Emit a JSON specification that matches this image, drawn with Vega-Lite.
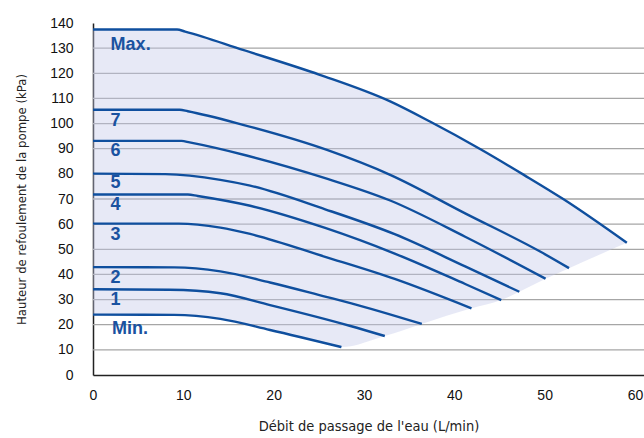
{
  "$schema": "https://vega.github.io/schema/vega-lite/v6.json",
  "width": 551,
  "height": 352,
  "autosize": {"type": "none"},
  "padding": {"left": 93, "top": 23, "right": 0, "bottom": 63},
  "background": "white",
  "config": {"view": {"stroke": null}},
  "datasets": {
    "gridlines": [
      {"y": 10}, {"y": 20}, {"y": 30}, {"y": 40}, {"y": 50}, {"y": 60}, {"y": 70},
      {"y": 80}, {"y": 90}, {"y": 100}, {"y": 110}, {"y": 120}, {"y": 130}
    ],
    "band": [
      {"x": 0, "y": 137.4, "bottom": 24.0},
      {"x": 9.3, "y": 137.4, "bottom": 23.9},
      {"x": 10.2, "y": 136.6, "bottom": 23.7},
      {"x": 14.1, "y": 132.1, "bottom": 22.3},
      {"x": 16.6, "y": 129.3, "bottom": 20.6},
      {"x": 19.6, "y": 125.8, "bottom": 17.9},
      {"x": 25.1, "y": 119.4, "bottom": 13.0},
      {"x": 27.5, "y": 116.1, "bottom": 11.1},
      {"x": 32.3, "y": 109.6, "bottom": 15.5},
      {"x": 36.4, "y": 102.4, "bottom": 20.3},
      {"x": 41.9, "y": 91.8, "bottom": 26.5},
      {"x": 45.2, "y": 84.9, "bottom": 29.8},
      {"x": 47.2, "y": 80.7, "bottom": 33.1},
      {"x": 50.1, "y": 74.3, "bottom": 38.3},
      {"x": 52.7, "y": 68.4, "bottom": 42.5},
      {"x": 59.1, "y": 52.6, "bottom": 52.6}
    ],
    "curves": [
      {"s": "Max", "x": 0, "y": 137.4}, {"s": "Max", "x": 9.3, "y": 137.4}, {"s": "Max", "x": 10.2, "y": 136.6},
      {"s": "Max", "x": 16.6, "y": 129.3},
      {"s": "Max", "x": 25.1, "y": 119.4}, {"s": "Max", "x": 32.9, "y": 108.8}, {"s": "Max", "x": 37.3, "y": 100.8},
      {"s": "Max", "x": 42.9, "y": 89.8}, {"s": "Max", "x": 47.7, "y": 79.6}, {"s": "Max", "x": 52.1, "y": 69.9},
      {"s": "Max", "x": 59.1, "y": 52.6},
      {"s": "7", "x": 0, "y": 105.5}, {"s": "7", "x": 9.6, "y": 105.5}, {"s": "7", "x": 10.5, "y": 104.9},
      {"s": "7", "x": 16.6, "y": 99.5},
      {"s": "7", "x": 25.9, "y": 89.5}, {"s": "7", "x": 32.9, "y": 79.6}, {"s": "7", "x": 41.2, "y": 64.3},
      {"s": "7", "x": 49.5, "y": 49.1}, {"s": "7", "x": 52.7, "y": 42.5},
      {"s": "6", "x": 0, "y": 93.1}, {"s": "6", "x": 9.8, "y": 93.1}, {"s": "6", "x": 10.7, "y": 92.5},
      {"s": "6", "x": 17, "y": 87.3},
      {"s": "6", "x": 25.7, "y": 78.3}, {"s": "6", "x": 32.9, "y": 69.4}, {"s": "6", "x": 41.2, "y": 55.0},
      {"s": "6", "x": 50.1, "y": 38.3},
      {"s": "5", "x": 0, "y": 80.1}, {"s": "5", "x": 8, "y": 79.9}, {"s": "5", "x": 14.1, "y": 77.6},
      {"s": "5", "x": 17.4, "y": 75.3}, {"s": "5", "x": 25.7, "y": 65.9}, {"s": "5", "x": 33.4, "y": 56.0},
      {"s": "5", "x": 41.2, "y": 43.2}, {"s": "5", "x": 47.2, "y": 33.1},
      {"s": "4", "x": 0, "y": 71.8}, {"s": "4", "x": 10.5, "y": 71.8}, {"s": "4", "x": 11.6, "y": 71.2},
      {"s": "4", "x": 17.4, "y": 67.3},
      {"s": "4", "x": 25.7, "y": 58.5}, {"s": "4", "x": 33.4, "y": 48.3}, {"s": "4", "x": 41.2, "y": 36.2},
      {"s": "4", "x": 45.2, "y": 29.8},
      {"s": "3", "x": 0, "y": 60.2}, {"s": "3", "x": 9.5, "y": 60.2}, {"s": "3", "x": 14.1, "y": 58.6},
      {"s": "3", "x": 17.4, "y": 56.1}, {"s": "3", "x": 25.7, "y": 47.0}, {"s": "3", "x": 33.4, "y": 38.2},
      {"s": "3", "x": 41.9, "y": 26.5},
      {"s": "2", "x": 0, "y": 42.9}, {"s": "2", "x": 9, "y": 42.8}, {"s": "2", "x": 14.1, "y": 41.2},
      {"s": "2", "x": 19.6, "y": 36.8}, {"s": "2", "x": 25.7, "y": 31.2}, {"s": "2", "x": 28.5, "y": 28.6},
      {"s": "2", "x": 36.4, "y": 20.3},
      {"s": "1", "x": 0, "y": 34.1}, {"s": "1", "x": 8.5, "y": 33.9}, {"s": "1", "x": 14.1, "y": 32.5},
      {"s": "1", "x": 19.6, "y": 27.8}, {"s": "1", "x": 28.5, "y": 19.5}, {"s": "1", "x": 32.3, "y": 15.5},
      {"s": "Min", "x": 0, "y": 24.0}, {"s": "Min", "x": 9, "y": 23.9}, {"s": "Min", "x": 14.1, "y": 22.3},
      {"s": "Min", "x": 19.6, "y": 17.9}, {"s": "Min", "x": 27.5, "y": 11.1}
    ],
    "labels": [
      {"t": "Max.", "x": 1.95, "y": 131.3},
      {"t": "7", "x": 1.95, "y": 101.2},
      {"t": "6", "x": 1.95, "y": 88.9},
      {"t": "5", "x": 1.95, "y": 76.3},
      {"t": "4", "x": 1.95, "y": 67.6},
      {"t": "3", "x": 1.95, "y": 55.7},
      {"t": "2", "x": 1.95, "y": 38.7},
      {"t": "1", "x": 1.95, "y": 29.8},
      {"t": "Min.", "x": 2.1, "y": 18.2}
    ]
  },
  "encoding": {
    "y": {
      "field": "y", "type": "quantitative",
      "scale": {"domain": [0, 140], "nice": false},
      "axis": {
        "values": [0, 10, 20, 30, 40, 50, 60, 70, 80, 90, 100, 110, 120, 130, 140],
        "title": "Hauteur de refoulement de la pompe (kPa)",
        "grid": false,
        "ticks": false, "tickSize": 0,
        "domainColor": "#222", "domainWidth": 1.5,
        "labelFont": "Liberation Sans", "labelFontSize": 14, "labelColor": "#111",
        "labelPadding": 20, "labelOverlap": false,
        "titleFont": "Liberation Sans Narrow, DejaVu Sans Condensed, Liberation Sans",
        "titleFontSize": 13, "titleFontWeight": "normal", "titleColor": "#222",
        "titlePadding": 21
      }
    }
  },
  "layer": [
    {
      "data": {"name": "gridlines"},
      "mark": {"type": "rule", "color": "#a6a6a6", "strokeWidth": 1.3},
      "encoding": {}
    },
    {
      "data": {"name": "band"},
      "mark": {"type": "area", "interpolate": "monotone", "color": "#c3c9e8", "opacity": 0.4},
      "encoding": {
        "x": {
          "field": "x", "type": "quantitative",
          "scale": {"domain": [0, 61], "nice": false},
          "axis": {
            "values": [0, 10, 20, 30, 40, 50, 60],
            "title": "Débit de passage de l'eau (L/min)",
            "grid": false,
            "ticks": false, "tickSize": 0,
            "domainColor": "#222", "domainWidth": 1.5,
            "labelFont": "Liberation Sans", "labelFontSize": 14, "labelColor": "#111",
            "labelPadding": 13, "labelFlush": false, "labelOverlap": false,
            "titleFont": "Liberation Sans Narrow, DejaVu Sans Condensed, Liberation Sans",
            "titleFontSize": 14.5, "titleFontWeight": "normal", "titleColor": "#222",
            "titlePadding": 17
          }
        },
        "y2": {"field": "bottom"}
      }
    },
    {
      "data": {"name": "curves"},
      "mark": {"type": "line", "interpolate": "monotone", "color": "#0f4f9e", "strokeWidth": 2.4},
      "encoding": {
        "x": {"field": "x", "type": "quantitative"},
        "detail": {"field": "s", "type": "nominal"}
      }
    },
    {
      "data": {"name": "labels"},
      "mark": {"type": "text", "align": "left", "baseline": "middle", "font": "Liberation Sans", "fontWeight": "bold", "fontSize": 18, "color": "#1a52a0"},
      "encoding": {
        "x": {"field": "x", "type": "quantitative"},
        "text": {"field": "t", "type": "nominal"}
      }
    }
  ]
}
